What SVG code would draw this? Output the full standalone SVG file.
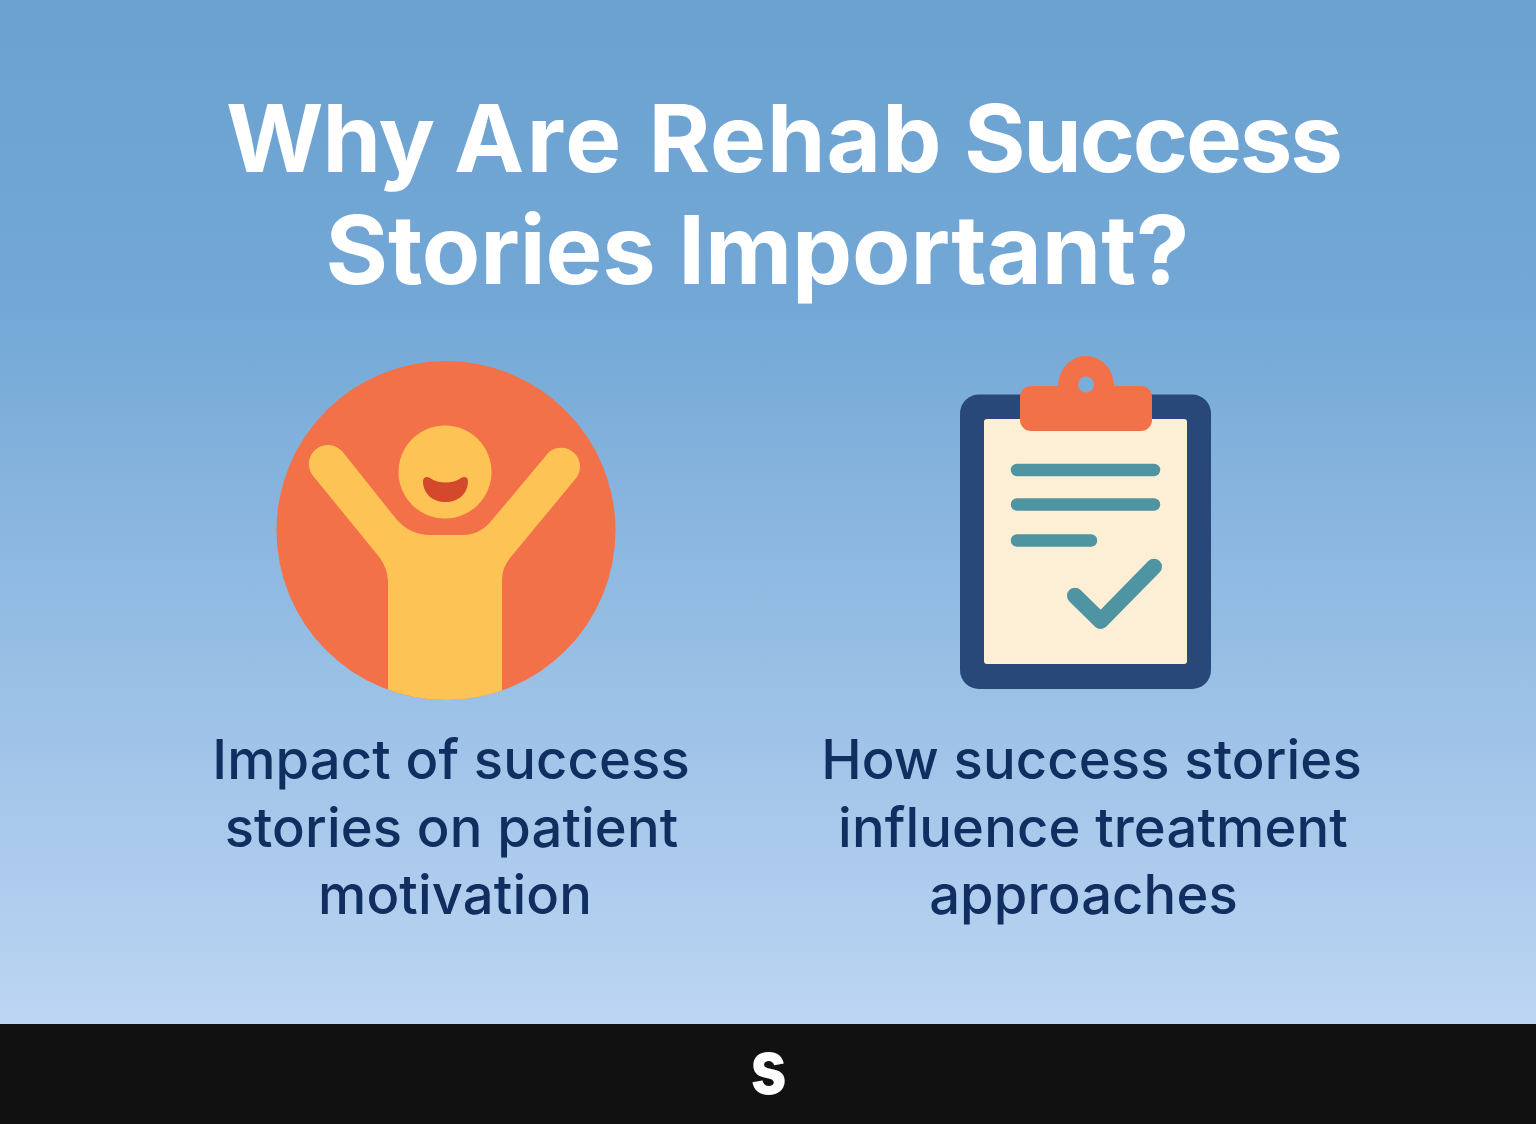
<svg xmlns="http://www.w3.org/2000/svg" width="1536" height="1124" viewBox="0 0 1536 1124">
<style>
.title{font-family:Inter,"Liberation Sans",sans-serif;font-weight:700;fill:#fff}
.sub{font-family:Inter,"Liberation Sans",sans-serif;font-weight:500;font-size:54.3px;letter-spacing:.15px;fill:#102f60}
.line{fill:none;stroke:#4e94a2;stroke-width:12.5;stroke-linecap:round;stroke-linejoin:round}
</style>
<defs>
<linearGradient id="bg" x1="0" y1="0" x2="0" y2="1">
<stop offset="0" stop-color="#6ba1d0"/><stop offset="0.3" stop-color="#73a8d6"/><stop offset="0.6" stop-color="#93bce3"/><stop offset="1" stop-color="#bcd5f3"/>
</linearGradient>
<clipPath id="disc"><circle cx="446" cy="530.5" r="169.5"/></clipPath>
</defs>
<rect id="background" width="1536" height="1024" fill="url(#bg)"/>
<g id="title">
<text class="title" y="172" font-size="94"><tspan x="226" letter-spacing="-1">Why</tspan> <tspan x="454" letter-spacing="2.5">Are</tspan> <tspan x="648.500" letter-spacing="1">Rehab</tspan> <tspan x="964" letter-spacing="-2.2">Success</tspan></text>
<text class="title" x="325.500" y="284" font-size="95.500" textLength="864">Stories Important?</text>
</g>
<g id="person-icon">
<circle cx="446" cy="530.5" r="169.5" fill="#f37148"/>
<path clip-path="url(#disc)" fill="#fec355" d="M388 710V580Q387 568 380 558L314 477A19 19 0 0 1 342 451L397 520Q411 535 430 535H463Q480 535 492 520L549 452A19 19 0 0 1 577 477L510 558Q502 568 502 580V710Z"/>
<circle cx="445" cy="472" r="46.5" fill="#fec355"/>
<path fill="#d4482b" d="M423 481C423 477 427 476 430 478C438 484 453 484 461 478C464 476 468 477 468 481C468 494 458 502 445.500 502C433 502 423 494 423 481Z"/>
</g>
<g id="clipboard-icon">
<rect x="960" y="394.500" width="251" height="294.500" rx="19" fill="#274878"/>
<rect x="984" y="419" width="203" height="245" rx="3" fill="#fdefd6"/>
<path fill="#f37148" fill-rule="evenodd" d="M1058 386A28 30 0 0 1 1114 386H1141A11 11 0 0 1 1152 397V420A11 11 0 0 1 1141 431H1031A11 11 0 0 1 1020 420V397A11 11 0 0 1 1031 386ZM1094 384.500A8 8 0 1 0 1078 384.500A8 8 0 1 0 1094 384.500Z"/>
<path class="line" d="M1017 470H1154M1017 504.500H1154M1017 540.500H1091"/>
<path class="line" style="stroke-width:16" d="M1075 595.700L1100.700 621L1154 566.700"/>
</g>
<g id="label-left">
<text class="sub" x="451" y="779" text-anchor="middle">Impact of success</text>
<text class="sub" x="451.500" y="847" text-anchor="middle">stories on patient</text>
<text class="sub" x="455" y="914" text-anchor="middle">motivation</text>
</g>
<g id="label-right">
<text class="sub" x="1091.500" y="779" text-anchor="middle">How success stories</text>
<text class="sub" x="1093" y="847" text-anchor="middle">influence treatment</text>
<text class="sub" x="1083.500" y="914" text-anchor="middle">approaches</text>
</g>
<g id="footer">
<rect y="1024" width="1536" height="100" fill="#111"/>
<text transform="translate(768.500 1094) scale(.83 1)" text-anchor="middle" font-family="Inter, 'Liberation Sans', sans-serif" font-weight="800" font-size="76" fill="#fff">s</text>
</g>
</svg>
